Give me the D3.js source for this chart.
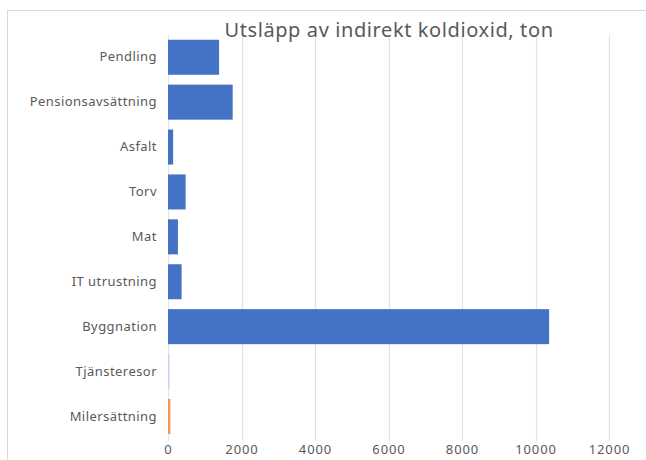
<!DOCTYPE html>
<html>
  <head>
    <meta http-equiv="Content-type" content="text/html; charset=utf-8">
    <title>Utsläpp av indirekt koldioxid</title>
    <script src="https://d3js.org/d3.v7.min.js"></script>
    <style>
      body { margin: 0; background: #fff; }
      text { font-family: "Noto Sans", sans-serif; fill: #595959; }
    </style>
  </head>
  <body>
    <div id="chart"></div>
    <script type="text/javascript">
      var categories = ["Pendling", "Pensionsavsättning", "Asfalt", "Torv", "Mat",
        "IT utrustning", "Byggnation", "Tjänsteresor", "Milersättning"];
      var values = [1390, 1760, 140, 480, 270, 370, 10370, 40, 65];
      var barColors = ["#4472c4", "#4472c4", "#4472c4", "#4472c4", "#4472c4",
        "#4472c4", "#4472c4", "#c9d6ec", "#f0955a"];
      var ticks = [0, 2000, 4000, 6000, 8000, 10000, 12000];

      var width = 646,
        height = 460;

      var svg = d3.select("#chart").append("svg")
        .attr("width", width)
        .attr("height", height);

      // outer frame of the chart area
      svg.append("rect")
        .attr("x", 7.5)
        .attr("y", 10.5)
        .attr("width", 700)
        .attr("height", 500)
        .style("fill", "none")
        .style("stroke", "#d9d9d9");

      var x = d3.scaleLinear()
        .domain([0, 12000])
        .range([168, 609]);

      var y = d3.scaleBand()
        .domain(categories)
        .range([34.8, 438.9])
        .paddingInner(0.22)
        .paddingOuter(0.11);

      // vertical gridlines
      svg.append("g").selectAll("line")
        .data(ticks)
        .enter().append("line")
        .attr("x1", function(d) { return Math.round(x(d)) + 0.5; })
        .attr("x2", function(d) { return Math.round(x(d)) + 0.5; })
        .attr("y1", 35)
        .attr("y2", 441)
        .style("stroke", "#e3e3e3")
        .style("stroke-width", 1.2);

      var rows = categories.map(function(c, i) {
        return { name: c, num: values[i], color: barColors[i] };
      });

      svg.append("g").selectAll("rect")
        .data(rows)
        .enter().append("rect")
        .attr("x", x(0))
        .attr("y", function(d) { return y(d.name); })
        .attr("width", function(d) { return Math.max(x(d.num) - x(0), 1.5); })
        .attr("height", y.bandwidth())
        .style("fill", function(d) { return d.color; });

      // x axis labels
      var xAxis = d3.axisBottom(x)
        .tickValues(ticks)
        .tickSize(0)
        .tickPadding(0)
        .tickFormat(d3.format("d"));

      var gx = svg.append("g")
        .attr("transform", "translate(0,445)")
        .call(xAxis);
      gx.select(".domain").remove();
      gx.selectAll("text")
        .style("font-size", "13px")
        .style("letter-spacing", "0.9px")
        .style("fill", "#595959");

      // y axis labels
      var yAxis = d3.axisLeft(y)
        .tickSize(0)
        .tickPadding(0);

      var gy = svg.append("g")
        .attr("transform", "translate(157,0)")
        .call(yAxis);
      gy.select(".domain").remove();
      gy.selectAll("text")
        .style("font-size", "13px")
        .style("letter-spacing", "0.45px")
        .style("fill", "#595959");

      svg.append("text")
        .attr("x", 389)
        .attr("y", 37)
        .attr("text-anchor", "middle")
        .style("font-size", "20px")
        .style("letter-spacing", "0.6px")
        .text("Utsläpp av indirekt koldioxid, ton");
    </script>
  </body>
</html>
